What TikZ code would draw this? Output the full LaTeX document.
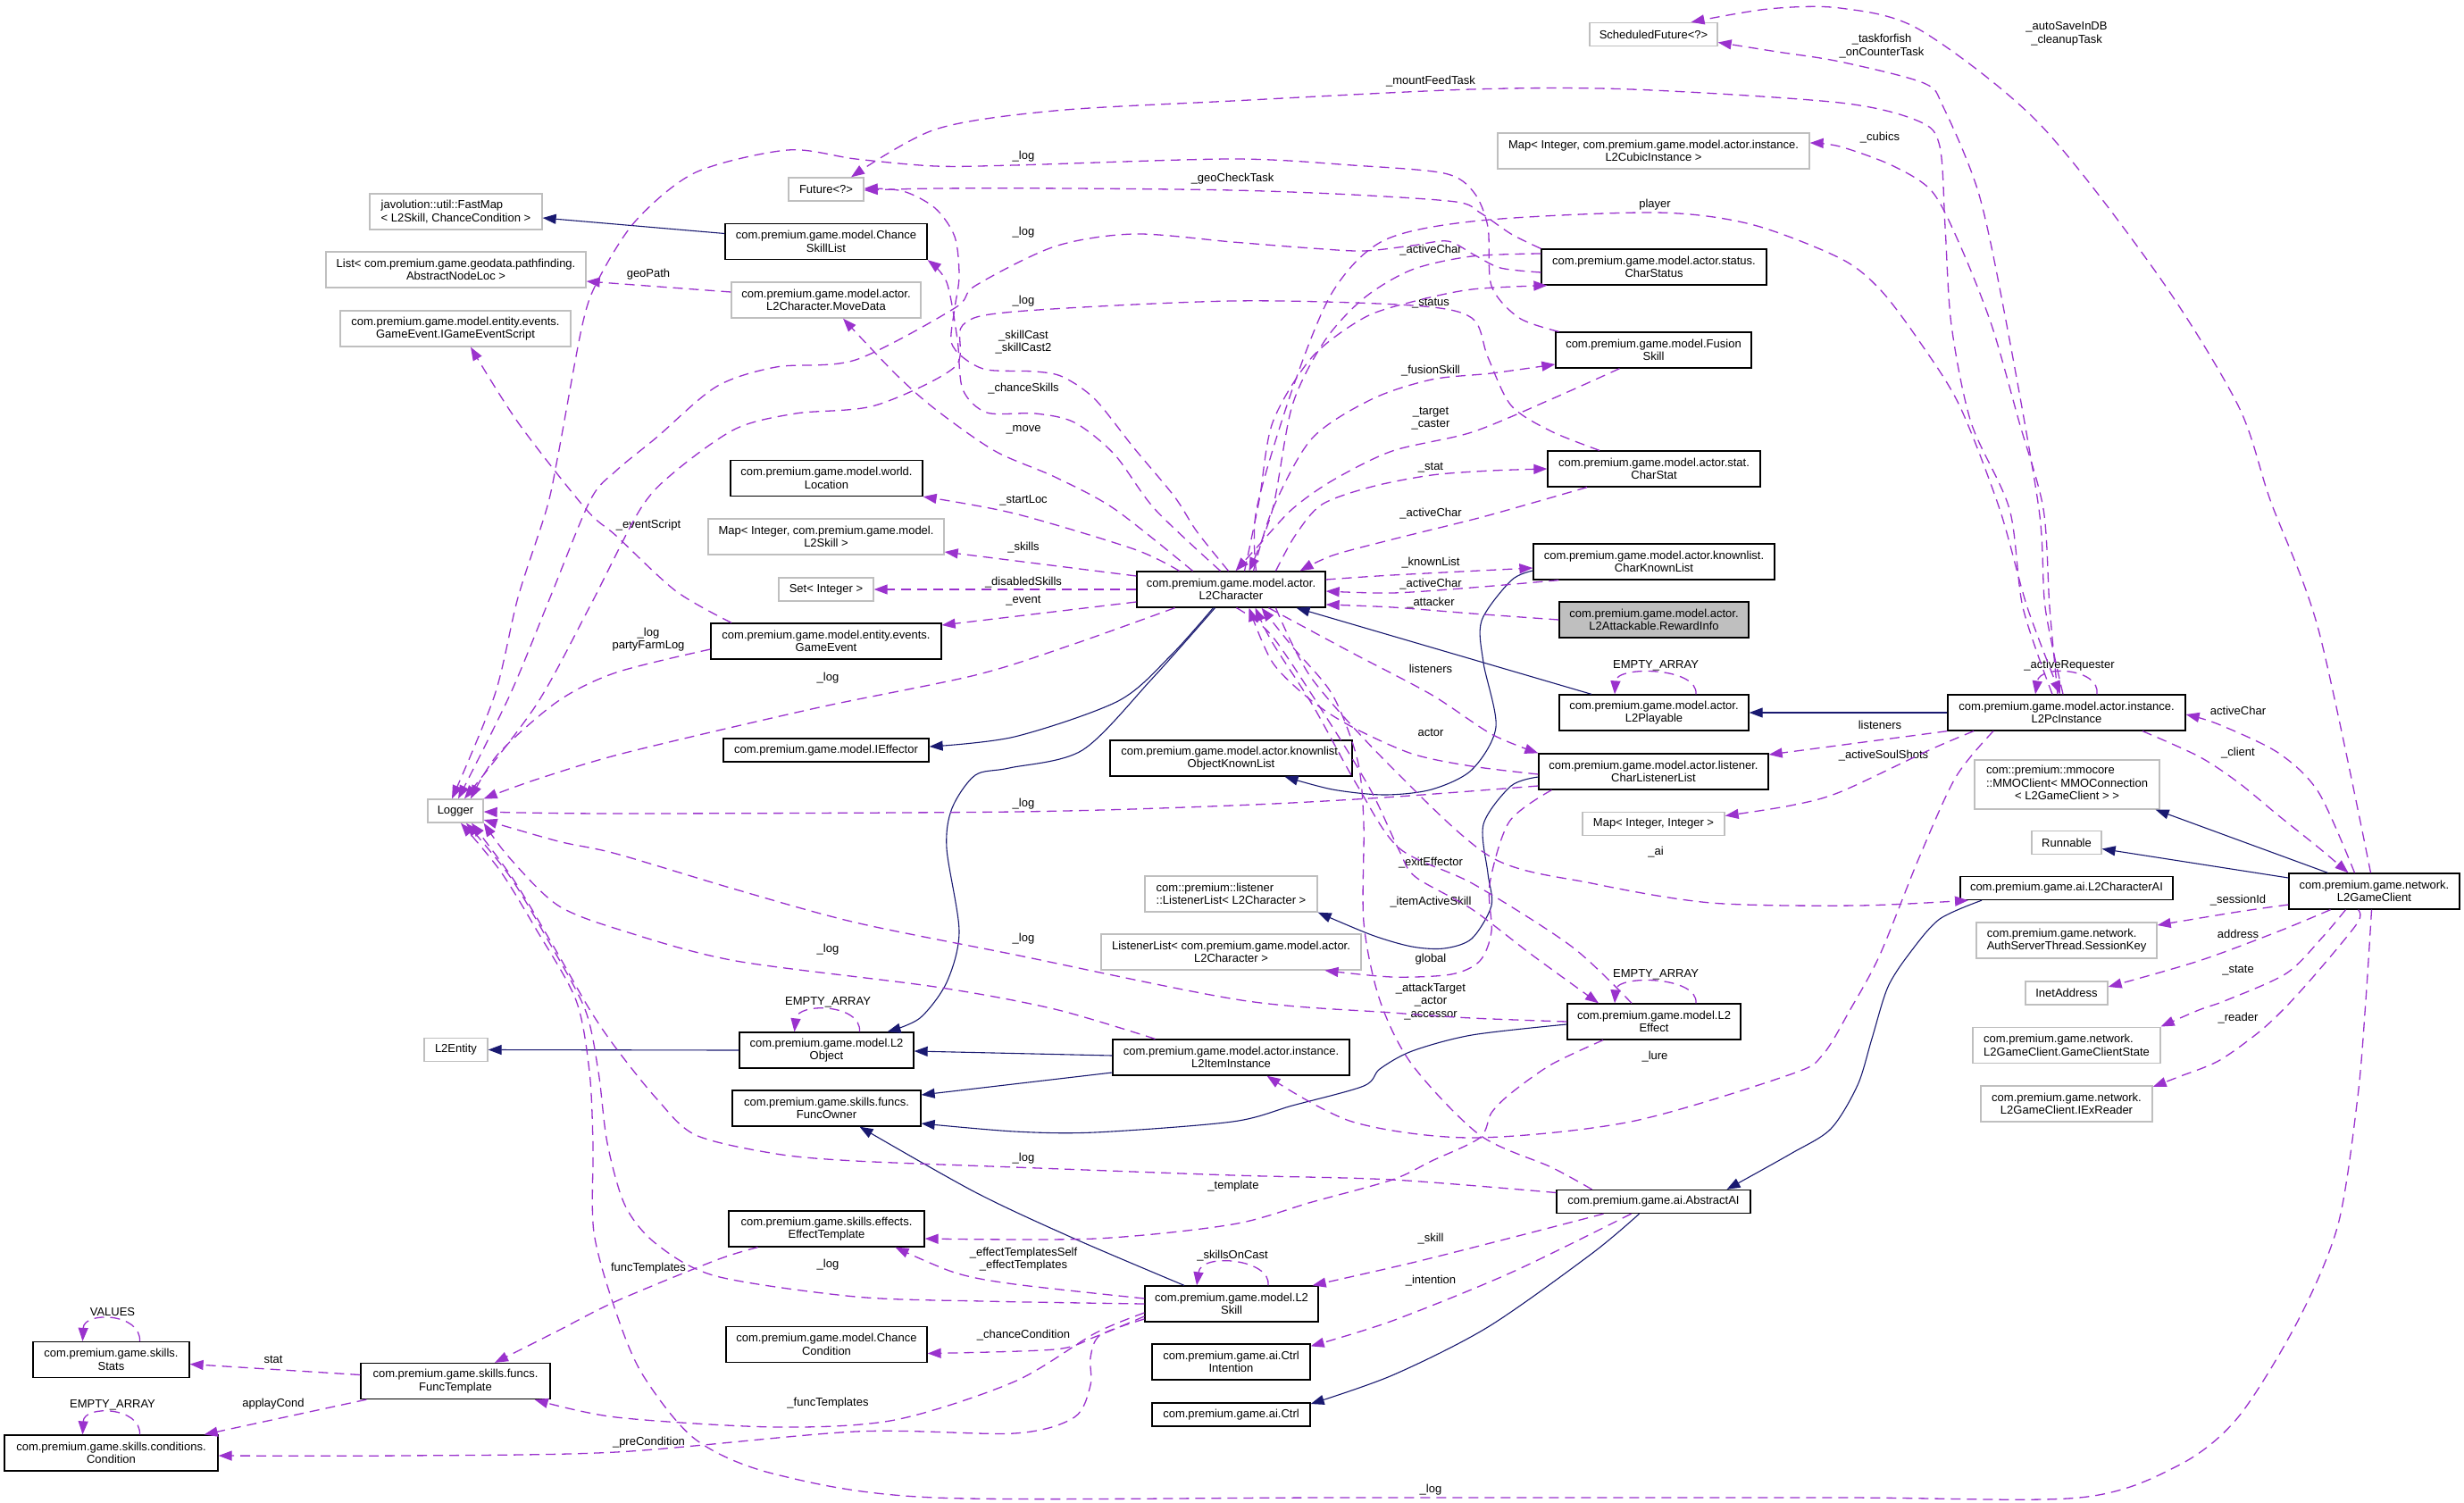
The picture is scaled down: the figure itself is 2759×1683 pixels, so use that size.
\documentclass[tikz,border=0pt]{standalone}
\usepackage{fontspec}
\setmainfont{Liberation Sans}
\usetikzlibrary{arrows.meta}
\definecolor{dkorchid}{HTML}{9A32CD}
\definecolor{midnight}{HTML}{191970}
\definecolor{grey75}{HTML}{BFBFBF}
\newcommand{\boxfont}{\fontsize{13pt}{14.5pt}\selectfont}
\begin{document}
\begin{tikzpicture}[x=1pt,y=-1pt,
  cls/.style={draw=black, line width=1.3pt, font=\boxfont, align=center, inner xsep=2pt, inner ysep=0pt, minimum height=40pt},
  one/.style={minimum height=26pt},
  ext/.style={cls, draw=grey75},
  rootcls/.style={cls, fill=grey75},
  lbl/.style={font=\boxfont, align=center, inner sep=0pt},
  uses/.style={draw=dkorchid, line width=1.3pt, dash pattern=on 11pt off 7pt, -{Triangle[length=15pt,width=11pt]}},
  inh/.style={draw=midnight, line width=1.1pt, -{Triangle[length=15pt,width=11pt]}}]
\useasboundingbox (0,0) rectangle (2759,1683);
\node[ext, minimum width=193pt, align=left] (fastmap) at (510.5,237){javolution::util::FastMap\\< L2Skill, ChanceCondition >};
\node[ext, minimum width=291pt] (geolist) at (510.5,302){List< com.premium.game.geodata.pathfinding.\\AbstractNodeLoc >};
\node[ext, minimum width=258pt] (evscript) at (510,368){com.premium.game.model.entity.events.\\GameEvent.IGameEventScript};
\node[ext, one, minimum width=62pt] (logger) at (510,908){Logger};
\node[ext, one, minimum width=71pt] (l2entity) at (510.5,1175.5){L2Entity};
\node[cls, minimum width=212pt] (functpl) at (510,1546.5){com.premium.game.skills.funcs.\\FuncTemplate};
\node[cls, minimum width=175pt] (stats) at (124.5,1522.5){com.premium.game.skills.\\Stats};
\node[cls, minimum width=239pt] (condition) at (124.5,1627){com.premium.game.skills.conditions.\\Condition};
\node[ext, one, minimum width=84pt] (future) at (925,212){Future<?>};
\node[cls, minimum width=226pt] (skilllist) at (925,270.5){com.premium.game.model.Chance\\SkillList};
\node[ext, minimum width=212pt] (movedata) at (925,336){com.premium.game.model.actor.\\L2Character.MoveData};
\node[cls, minimum width=215pt] (location) at (925.5,535.5){com.premium.game.model.world.\\Location};
\node[ext, minimum width=264pt] (skillmap) at (925,601){Map< Integer, com.premium.game.model.\\L2Skill >};
\node[ext, one, minimum width=106pt] (intset) at (925,660){Set< Integer >};
\node[cls, minimum width=258pt] (gameevent) at (925,718){com.premium.game.model.entity.events.\\GameEvent};
\node[cls, one, minimum width=230pt] (effector) at (925,840){com.premium.game.model.IEffector};
\node[cls, minimum width=195pt] (l2object) at (925.5,1176){com.premium.game.model.L2\\Object};
\node[cls, minimum width=211pt] (funcowner) at (925.5,1241){com.premium.game.skills.funcs.\\FuncOwner};
\node[cls, minimum width=219pt] (efftpl) at (925.5,1376){com.premium.game.skills.effects.\\EffectTemplate};
\node[cls, minimum width=225pt] (chancecond) at (925.5,1505.5){com.premium.game.model.Chance\\Condition};
\node[cls, minimum width=211pt] (lchar) at (1378.5,660){com.premium.game.model.actor.\\L2Character};
\node[cls, minimum width=271pt] (objknown) at (1378.5,849){com.premium.game.model.actor.knownlist.\\ObjectKnownList};
\node[ext, minimum width=193pt, align=left] (plistener) at (1378.5,1001){com::premium::listener\\::ListenerList< L2Character >};
\node[ext, minimum width=291pt] (glistener) at (1378.5,1066){ListenerList< com.premium.game.model.actor.\\L2Character >};
\node[cls, minimum width=265pt] (iteminst) at (1378.5,1184){com.premium.game.model.actor.instance.\\L2ItemInstance};
\node[cls, minimum width=194pt] (l2skill) at (1379,1460){com.premium.game.model.L2\\Skill};
\node[cls, minimum width=177pt] (intention) at (1378.5,1525){com.premium.game.ai.Ctrl\\Intention};
\node[cls, one, minimum width=177pt] (ctrl) at (1378.5,1584){com.premium.game.ai.Ctrl};
\node[ext, one, minimum width=143pt] (schedfut) at (1851.5,38.5){ScheduledFuture<?>};
\node[ext, minimum width=349pt] (cubicmap) at (1851.5,169){Map< Integer, com.premium.game.model.actor.instance.\\L2CubicInstance >};
\node[cls, minimum width=252pt] (charstatus) at (1852,299){com.premium.game.model.actor.status.\\CharStatus};
\node[cls, minimum width=219pt] (fusion) at (1851.5,392){com.premium.game.model.Fusion\\Skill};
\node[cls, minimum width=238pt] (charstat) at (1852,525){com.premium.game.model.actor.stat.\\CharStat};
\node[cls, minimum width=270pt] (charknown) at (1852,629){com.premium.game.model.actor.knownlist.\\CharKnownList};
\node[rootcls, minimum width=212pt] (reward) at (1852,694){com.premium.game.model.actor.\\L2Attackable.RewardInfo};
\node[cls, minimum width=212pt] (playable) at (1852,798){com.premium.game.model.actor.\\L2Playable};
\node[cls, minimum width=257pt] (charlisten) at (1851.5,864){com.premium.game.model.actor.listener.\\CharListenerList};
\node[ext, one, minimum width=159pt] (intmap) at (1851.5,922.5){Map< Integer, Integer >};
\node[cls, minimum width=194pt] (l2effect) at (1852,1144){com.premium.game.model.L2\\Effect};
\node[cls, one, minimum width=217pt] (abstractai) at (1851.5,1345.5){com.premium.game.ai.AbstractAI};
\node[cls, minimum width=266pt] (pcinst) at (2314,798){com.premium.game.model.actor.instance.\\L2PcInstance};
\node[ext, minimum width=207pt, minimum height=55pt] (mmoclient) at (2314.5,878.5){\begin{tabular}{@{}l@{}}com::premium::mmocore\\::MMOClient< MMOConnection\\\multicolumn{1}{@{}c@{}}{< L2GameClient > >}\end{tabular}};
\node[ext, one, minimum width=78pt] (runnable) at (2314,943.5){Runnable};
\node[cls, one, minimum width=238pt] (charai) at (2314,994.5){com.premium.game.ai.L2CharacterAI};
\node[ext, minimum width=202pt, align=left] (sessionkey) at (2314,1053){com.premium.game.network.\\AuthServerThread.SessionKey};
\node[ext, one, minimum width=92pt] (inetaddr) at (2314,1112){InetAddress};
\node[ext, minimum width=210pt, align=left] (clientstate) at (2314,1170.5){com.premium.game.network.\\L2GameClient.GameClientState};
\node[ext, minimum width=192pt] (exreader) at (2314,1236){com.premium.game.network.\\L2GameClient.IExReader};
\node[cls, minimum width=191pt] (gameclient) at (2658.5,998){com.premium.game.network.\\L2GameClient};
\node[lbl] (llog1) at (1146,175){\_log};
\node[lbl] (lgeo) at (1380,200){\_geoCheckTask};
\node[lbl] (llog2) at (1146,260){\_log};
\node[lbl] (llog3) at (1146,337){\_log};
\node[lbl] (lcast) at (1146,383){\_skillCast\\\_skillCast2};
\node[lbl] (lchance) at (1146,435.5){\_chanceSkills};
\node[lbl] (lmove) at (1146,481){\_move};
\node[lbl] (lstart) at (1146,560){\_startLoc};
\node[lbl] (lskills) at (1146,613){\_skills};
\node[lbl] (ldisabled) at (1146,652){\_disabledSkills};
\node[lbl] (levent) at (1146,673){\_event};
\node[lbl] (lgeopath) at (726,307.5){geoPath};
\node[lbl] (lscript) at (726,588){\_eventScript};
\node[lbl] (lparty) at (726,716){\_log\\partyFarmLog};
\node[lbl] (llogchar) at (927,759){\_log};
\node[lbl] (lloglisten) at (1146,900){\_log};
\node[lbl] (llogeffect) at (1146,1051){\_log};
\node[lbl] (llogitem) at (927,1063.5){\_log};
\node[lbl] (lobjloop) at (927,1122){EMPTY\_ARRAY};
\node[lbl] (llogai) at (1146,1297){\_log};
\node[lbl] (ltemplate) at (1381,1328){\_template};
\node[lbl] (leffects) at (1146,1410){\_effectTemplatesSelf\\\_effectTemplates};
\node[lbl] (llogskill) at (927,1416){\_log};
\node[lbl] (lfuncs) at (726,1420){funcTemplates};
\node[lbl] (loncast) at (1380,1406.5){\_skillsOnCast};
\node[lbl] (lchancecond) at (1146,1495.5){\_chanceCondition};
\node[lbl] (lfunctpls) at (927,1571){\_funcTemplates};
\node[lbl] (lprecond) at (726.5,1615.5){\_preCondition};
\node[lbl] (lvalues) at (126,1469){VALUES};
\node[lbl] (lstat2) at (306,1522){stat};
\node[lbl] (lcondloop) at (126,1573){EMPTY\_ARRAY};
\node[lbl] (lapplay) at (306,1572.5){applayCond};
\node[lbl] (lmount) at (1602,91.5){\_mountFeedTask};
\node[lbl] (lplayer) at (1853,229){player};
\node[lbl] (lactive1) at (1602,280.5){\_activeChar};
\node[lbl] (lstatus) at (1602,340){\_status};
\node[lbl] (lfusion) at (1602,415.5){\_fusionSkill};
\node[lbl] (ltarget) at (1602,468.5){\_target\\\_caster};
\node[lbl] (lstat) at (1602,524){\_stat};
\node[lbl] (lactive2) at (1602,575.5){\_activeChar};
\node[lbl] (lknown) at (1602,630){\_knownList};
\node[lbl] (lactive3) at (1602,654.5){\_activeChar};
\node[lbl] (lattacker) at (1602,675.5){\_attacker};
\node[lbl] (llisteners) at (1602,748.5){listeners};
\node[lbl] (lplayloop) at (1854,745.5){EMPTY\_ARRAY};
\node[lbl] (lactor) at (1602,820.5){actor};
\node[lbl] (lai) at (1854,954){\_ai};
\node[lbl] (lexit) at (1602,966.5){\_exitEffector};
\node[lbl] (litemskill) at (1602,1010.5){\_itemActiveSkill};
\node[lbl] (lglobal) at (1602,1074.5){global};
\node[lbl] (lefloop) at (1854,1091){EMPTY\_ARRAY};
\node[lbl] (lattack) at (1602,1121.5){\_attackTarget\\\_actor\\\_accessor};
\node[lbl] (llure) at (1853,1183.5){\_lure};
\node[lbl] (lskill) at (1602,1387){\_skill};
\node[lbl] (lintention) at (1602,1434.5){\_intention};
\node[lbl] (llogbottom) at (1602,1668.5){\_log};
\node[lbl] (lfish) at (2107,51.5){\_taskforfish\\\_onCounterTask};
\node[lbl] (lautosave) at (2314,38){\_autoSaveInDB\\\_cleanupTask};
\node[lbl] (lcubics) at (2105,154.5){\_cubics};
\node[lbl] (lpclisten) at (2105,812){listeners};
\node[lbl] (lsoul) at (2109,846){\_activeSoulShots};
\node[lbl] (lrequester) at (2317,745.5){\_activeRequester};
\node[lbl] (lactivechar) at (2506,795.5){activeChar};
\node[lbl] (lclient) at (2506,843.5){\_client};
\node[lbl] (lsession) at (2506,1008){\_sessionId};
\node[lbl] (laddress) at (2506,1046){address};
\node[lbl] (lstate) at (2506,1087){\_state};
\node[lbl] (lreader) at (2506,1140){\_reader};
\draw[inh] ([yshift=9pt]skilllist.west) -- ([yshift=-7pt]fastmap.east);
\draw[inh] plot[smooth] coordinates {([xshift=-20pt]lchar.south) (1310,735) (1252,785) (1136,825) ([yshift=4pt]effector.east)};
\draw[inh] plot[smooth] coordinates {([xshift=-18pt]lchar.south) (1290,760) (1212,840) (1130,860) (1092,868) (1066,905) (1060,950) (1074,1043) (1060,1100) (1030,1140) ([xshift=68pt]l2object.north)};
\draw[inh] (l2object.west) -- (l2entity.east);
\draw[inh] ([yshift=2pt]iteminst.west) -- ([yshift=-1pt]l2object.east);
\draw[inh] ([yshift=-17pt]iteminst.west) -- ([yshift=15pt]funcowner.east);
\draw[inh] plot[smooth] coordinates {([yshift=-3pt]l2effect.west) (1648,1159) (1581,1177) (1545,1197) (1527,1216) (1447,1238) (1380,1256) (1226,1268) (1136,1267) ([yshift=-17pt]funcowner.east)};
\draw[inh] plot[smooth] coordinates {([xshift=-53pt]l2skill.north) (1203,1387) (1092,1335) ([xshift=37pt]funcowner.south)};
\draw[inh] ([xshift=-70pt]playable.north) -- ([xshift=73pt]lchar.south);
\draw[inh] (pcinst.west) -- (playable.east);
\draw[inh] plot[smooth] coordinates {([yshift=-10pt]charknown.west) (1692,650) (1659,695) (1661,742) (1675,814) (1648,862) (1603,884) (1550,890) (1492,884) ([xshift=60pt]objknown.south)};
\draw[inh] plot[smooth] coordinates {([yshift=-6pt]charlisten.west) (1692,880) (1661,923) (1666,978) (1670,1014) (1648,1051) (1617,1062) (1581,1060) (1536,1047) (plistener.south east)};
\draw[inh] ([xshift=-52pt]gameclient.north) -- ([xshift=-5pt]mmoclient.south east);
\draw[inh] ([yshift=15pt]gameclient.west) -- ([yshift=-7pt]runnable.east);
\draw[inh] plot[smooth] coordinates {([xshift=-95pt]charai.south) (2172,1029) (2140,1065) (2114,1105) (2096,1163) (2080,1215) (2050,1264) (2005,1292) ([xshift=82pt]abstractai.north)};
\draw[inh] plot[smooth] coordinates {([xshift=-16pt]abstractai.south) (1782,1404) (1666,1486) (1559,1540) ([yshift=12pt]ctrl.east)};
\draw[uses] plot[smooth] coordinates {([xshift=4pt]fusion.north west) (1701,356) (1670,320) (1666,254) (1650,215) (1617,194) (1514,185) (1380,178) (1136,185) (1047,186) (958,178) (882,168) (779,193) (712,247) (670,313) (652,364) (625,509) (612,570) (580,669) (554,778) ([xshift=-4pt]logger.north)};
\draw[uses] plot[smooth] coordinates {([yshift=-6pt]charstatus.west) (1680,300) (1650,285) (1621,270) (1581,275) (1527,281) (1469,278) (1380,271) (1270,262) (1181,276) (1092,320) (1069,345) (958,403) (869,411) (802,433) (735,490) (690,527) (661,560) (616,669) (571,778) ([xshift=3pt]logger.north)};
\draw[uses] plot[smooth] coordinates {([xshift=-61pt]charstat.north) (1737,483) (1692,454) (1666,400) (1648,356) (1581,342) (1380,337) (1136,349) (1078,364) (1069,411) (980,454) (891,463) (824,480) (757,527) (717,570) (660,680) (600,790) ([xshift=10pt]logger.north)};
\draw[uses] plot[smooth] coordinates {(charstatus.north west) (1692,262) (1657,238) (1630,226) (1514,218) (1380,213) (1200,211) (1050,211) ([yshift=-1pt]future.east)};
\draw[uses] plot[smooth] coordinates {([xshift=-3pt]lchar.north) (1340,595) (1315,556) (1270,502) (1226,447) (1190,422) (1159,416) (1105,414) (1078,400) (1065,382) (1069,345) (1074,309) (1069,265) (1047,233) (1011,214) ([yshift=1pt]future.east)};
\draw[uses] plot[smooth] coordinates {([xshift=-12pt]lchar.north) (1293,570) (1248,509) (1203,473) (1159,463) (1105,462) (1078,436) (1072,380) (1060,316) (skilllist.south east)};
\draw[uses] plot[smooth] coordinates {([xshift=-43pt]lchar.north) (1248,570) (1181,534) (1114,505) (1047,458) (1002,418) ([xshift=19pt]movedata.south)};
\draw[uses] plot[smooth] coordinates {([xshift=-58pt]lchar.north) (1270,615) (1136,575) (location.south east)};
\draw[uses] ([yshift=15pt]lchar.west) -- ([yshift=-17pt]skillmap.east);
\draw[uses] (lchar.west) -- (intset.east);
\draw[uses] ([yshift=-14pt]lchar.west) -- ([yshift=18pt]gameevent.east);
\draw[uses] plot[smooth] coordinates {([xshift=-63pt]lchar.south) (1200,722) (1092,756) (913,793) (700,843) (600,873) (logger.north east)};
\draw[uses] plot[smooth] coordinates {([yshift=-9pt]gameevent.west) (690,753) (625,785) (558,844) ([xshift=17pt]logger.north)};
\draw[uses] plot[smooth] coordinates {([xshift=-106pt]gameevent.north) (757,662) (690,600) (656,570) (580,473) ([xshift=17pt]evscript.south)};
\draw[uses] ([yshift=9pt]movedata.west) -- ([yshift=-13pt]geolist.east);
\draw[uses] plot[smooth] coordinates {([yshift=-3pt]charlisten.west) (1648,858) (1581,844) (1514,814) (1469,785) (1425,742) ([xshift=20pt]lchar.south)};
\draw[uses] plot[smooth] coordinates {([xshift=42pt]lchar.south) (1514,731) (1603,778) (1670,822) (charlisten.north west)};
\draw[uses] plot[smooth] coordinates {([xshift=29pt]charknown.south west) (1648,658) (1559,664) ([yshift=-2pt]lchar.east)};
\draw[uses] plot[smooth] coordinates {([yshift=11pt]lchar.east) (1559,644) ([yshift=-7pt]charknown.west)};
\draw[uses] plot[smooth] coordinates {(reward.west) (1648,687) (1559,680) ([yshift=-17pt]lchar.east)};
\draw[uses] plot[smooth] coordinates {([xshift=-75pt]charstat.south) (1692,570) (1648,582) (1559,604) (1492,622) ([xshift=77pt]lchar.north)};
\draw[uses] plot[smooth] coordinates {([xshift=50pt]lchar.north) (1450,600) (1480,565) (1536,545) (1603,532) (1670,527) (charstat.west)};
\draw[uses] plot[smooth] coordinates {([xshift=-38pt]fusion.south) (1737,447) (1648,484) (1559,505) (1492,538) (1447,570) (1410,610) ([xshift=5pt]lchar.north)};
\draw[uses] plot[smooth] coordinates {([xshift=25pt]lchar.north) (1425,570) (1469,491) (1536,447) (1603,425) (1670,418) ([yshift=-16pt]fusion.west)};
\draw[uses] plot[smooth] coordinates {([xshift=15pt]lchar.north) (1410,560) (1425,473) (1469,400) (1527,356) (1581,338) (1648,324) ([xshift=7pt]charstatus.south west)};
\draw[uses] plot[smooth] coordinates {([yshift=15pt]charstatus.west) (1648,287) (1581,302) (1527,334) (1483,382) (1447,454) (1425,570) ([xshift=20pt]lchar.north)};
\draw[uses] plot[smooth] coordinates {([xshift=28pt]lchar.north) (1407,570) (1447,436) (1492,327) (1550,269) (1657,247) (1853,238) (1960,251) (2060,289) (2105,324) (2149,382) (2194,454) (2239,570) (2270,680) ([xshift=-7pt]pcinst.north)};
\draw[uses] plot[smooth] coordinates {([xshift=-16pt]pcinst.north) (2265,680) (2250,570) (2207,473) (2185,364) (2178,254) (2172,164) (2149,136) (2060,115) (1826,100) (1648,100) (1380,113) (1181,124) (1047,145) ([xshift=28pt]future.north)};
\draw[uses] plot[smooth] coordinates {([xshift=-4pt]pcinst.north) (2290,680) (2283,570) (2247,364) (2216,218) (2176,120) (2154,93) (2060,69) (1990,58) ([yshift=-9pt]schedfut.east)};
\draw[uses] plot[smooth] coordinates {([xshift=-10pt]pcinst.north) (2295,680) (2288,570) (2261,473) (2230,364) (2194,273) (2163,214) (2118,185) (2060,164) ([yshift=9pt]cubicmap.east)};
\draw[uses] plot[smooth] coordinates {([xshift=-4pt]gameclient.north) (2596,705) (2542,560) (2506,454) (2417,309) (2283,138) (2149,33) (2060,9) (1980,10) ([xshift=42pt]schedfut.north)};
\draw[uses] ([xshift=34pt]pcinst.north) .. controls (2352,748) and (2284,744) .. ([xshift=-35pt]pcinst.north);
\draw[uses] plot[smooth] coordinates {([xshift=-22pt]gameclient.north) (2596,887) (2551,843) (2484,811) ([yshift=-2pt]pcinst.east)};
\draw[uses] plot[smooth] coordinates {([xshift=85pt]pcinst.south) (2462,847) (2506,876) (2551,913) (2596,949) ([xshift=-29pt]gameclient.north)};
\draw[uses] (pcinst.south west) -- ([yshift=19pt]charlisten.east);
\draw[uses] plot[smooth] coordinates {([xshift=-104pt]pcinst.south) (2160,840) (2060,887) (2005,902) ([yshift=9pt]intmap.east)};
\draw[uses] plot[smooth] coordinates {([xshift=-82pt]pcinst.south) (2190,870) (2149,960) (2105,1069) (2072,1130) (2041,1181) (2005,1203) (1826,1256) (1648,1274) (1514,1256) ([xshift=40pt]iteminst.south)};
\draw[uses] plot[smooth] coordinates {([xshift=50pt]lchar.south) (1469,760) (1559,860) (1670,960) (1782,989) (1916,1011) (2080,1014) ([xshift=-110pt]charai.south)};
\draw[uses] plot[smooth] coordinates {([xshift=6pt]lchar.south) (1425,713) (1492,814) (1536,887) (1567,953) (1585,982) (1648,1018) (1715,1069) ([xshift=-62pt]l2effect.north)};
\draw[uses] plot[smooth] coordinates {([xshift=-25pt]l2effect.north) (1760,1060) (1650,990) (1567,950) (1520,880) (1470,790) (1425,720) ([xshift=27pt]lchar.south)};
\draw[uses] plot[smooth] coordinates {([xshift=-69pt]abstractai.north) (1737,1307) (1657,1271) (1581,1192) (1545,1120) (1527,1033) (1527,923) (1520,851) (1492,778) (1447,724) ([xshift=34pt]lchar.south)};
\draw[uses] plot[smooth] coordinates {(l2effect.west) (1648,1140) (1559,1134) (1390,1120) (1136,1069) (958,1033) (824,996) (690,956) (625,942) ([yshift=-10pt]logger.east)};
\draw[uses] plot[smooth] coordinates {([xshift=-85pt]iteminst.north) (1181,1130) (1047,1105) (824,1076) (700,1043) (625,1014) (570,960) (logger.south east)};
\draw[uses] plot[smooth] coordinates {([yshift=10pt]abstractai.west) (1559,1321) (1380,1316) (1136,1307) (958,1300) (869,1292) (779,1271) (735,1230) (690,1174) (660,1130) (620,1060) (575,985) ([xshift=18pt]logger.south)};
\draw[uses] plot[smooth] coordinates {(l2skill.west) (1100,1457) (958,1452) (802,1429) (735,1393) (700,1350) (680,1280) (670,1200) (655,1130) (612,1050) (570,980) ([xshift=12pt]logger.south)};
\draw[uses] plot[smooth] coordinates {([xshift=-3pt]gameclient.south) (2649,1120) (2640,1228) (2618,1371) (2573,1479) (2506,1587) (2439,1641) (2328,1677) (2060,1677) (1500,1677) (1047,1677) (869,1651) (779,1612) (720,1540) (690,1470) (665,1380) (664,1282) (660,1200) (645,1120) (600,1040) (560,975) ([xshift=6pt]logger.south)};
\draw[uses] plot[smooth] coordinates {([yshift=-16pt]charlisten.west) (1550,893) (1380,902) (1136,909) (690,911) ([yshift=-1pt]logger.east)};
\draw[uses] plot[smooth] coordinates {([xshift=-57pt]l2effect.south) (1737,1192) (1692,1224) (1670,1246) (1657,1274) (1603,1300) (1559,1321) (1469,1346) (1380,1371) (1226,1387) ([yshift=-11pt]efftpl.east)};
\draw[uses] plot[smooth] coordinates {([yshift=6pt]l2skill.west) (1136,1438) (1069,1425) ([xshift=77pt]efftpl.south)};
\draw[uses] plot[smooth] coordinates {([yshift=-14pt]l2skill.west) (1226,1497) (1181,1511) ([yshift=-10pt]chancecond.east)};
\draw[uses] plot[smooth] coordinates {([yshift=-10pt]l2skill.west) (1226,1493) (1136,1547) (1002,1590) (869,1598) (690,1587) ([xshift=-18pt]functpl.south east)};
\draw[uses] plot[smooth] coordinates {([yshift=-17pt]l2skill.west) (1232,1495) (1221,1520) (1221,1551) (1203,1587) (1136,1605) (958,1603) (690,1626) (450,1630) ([yshift=-3pt]condition.east)};
\draw[uses] ([xshift=41pt]l2skill.north) .. controls (1424,1410) and (1345,1402) .. ([xshift=-39pt]l2skill.north);
\draw[uses] plot[smooth] coordinates {([xshift=-56pt]abstractai.south) (1692,1386) (1581,1414) ([xshift=-7pt]l2skill.north east)};
\draw[uses] plot[smooth] coordinates {([xshift=-25pt]abstractai.south) (1692,1425) (1559,1479) ([yshift=-3pt]intention.north east)};
\draw[uses] plot[smooth] coordinates {([xshift=15pt]charlisten.south west) (1690,920) (1668,990) (1670,1043) (1657,1076) (1625,1091) (1559,1094) ([xshift=105pt]glistener.south)};
\draw[uses] plot[smooth] coordinates {([xshift=-77pt]efftpl.south) (802,1411) (690,1457) (625,1490) ([xshift=44pt]functpl.north)};
\draw[uses] ([yshift=7pt]functpl.west) -- ([yshift=-5pt]stats.east);
\draw[uses] ([xshift=7pt]functpl.south west) -- ([xshift=-16pt]condition.north east);
\draw[uses] ([xshift=32pt]stats.north) .. controls (158,1470) and (94,1468) .. ([xshift=-32pt]stats.north);
\draw[uses] ([xshift=32pt]condition.north) .. controls (158,1575) and (94,1573) .. ([xshift=-32pt]condition.north);
\draw[uses] ([xshift=37pt]l2object.north) .. controls (965,1124) and (893,1122) .. ([xshift=-36pt]l2object.north);
\draw[uses] ([xshift=47pt]playable.north) .. controls (1902,747) and (1810,745) .. ([xshift=-44pt]playable.north);
\draw[uses] ([xshift=47pt]l2effect.north) .. controls (1902,1093) and (1810,1091) .. ([xshift=-44pt]l2effect.north);
\draw[uses] plot[smooth] coordinates {([yshift=-15pt]gameclient.west) (2506,1021) ([yshift=17pt]sessionkey.east)};
\draw[uses] plot[smooth] coordinates {([xshift=-49pt]gameclient.south) (2551,1043) (2462,1076) ([yshift=7pt]inetaddr.east)};
\draw[uses] plot[smooth] coordinates {([xshift=-32pt]gameclient.south) (2600,1050) (2560,1090) (2493,1120) (2462,1131) ([yshift=21pt]clientstate.east)};
\draw[uses] plot[smooth] coordinates {([xshift=-18pt]gameclient.south) (2640,1033) (2596,1087) (2560,1127) (2529,1156) (2484,1188) (2439,1206) ([yshift=19pt]exreader.east)};
\end{tikzpicture}
\end{document}
